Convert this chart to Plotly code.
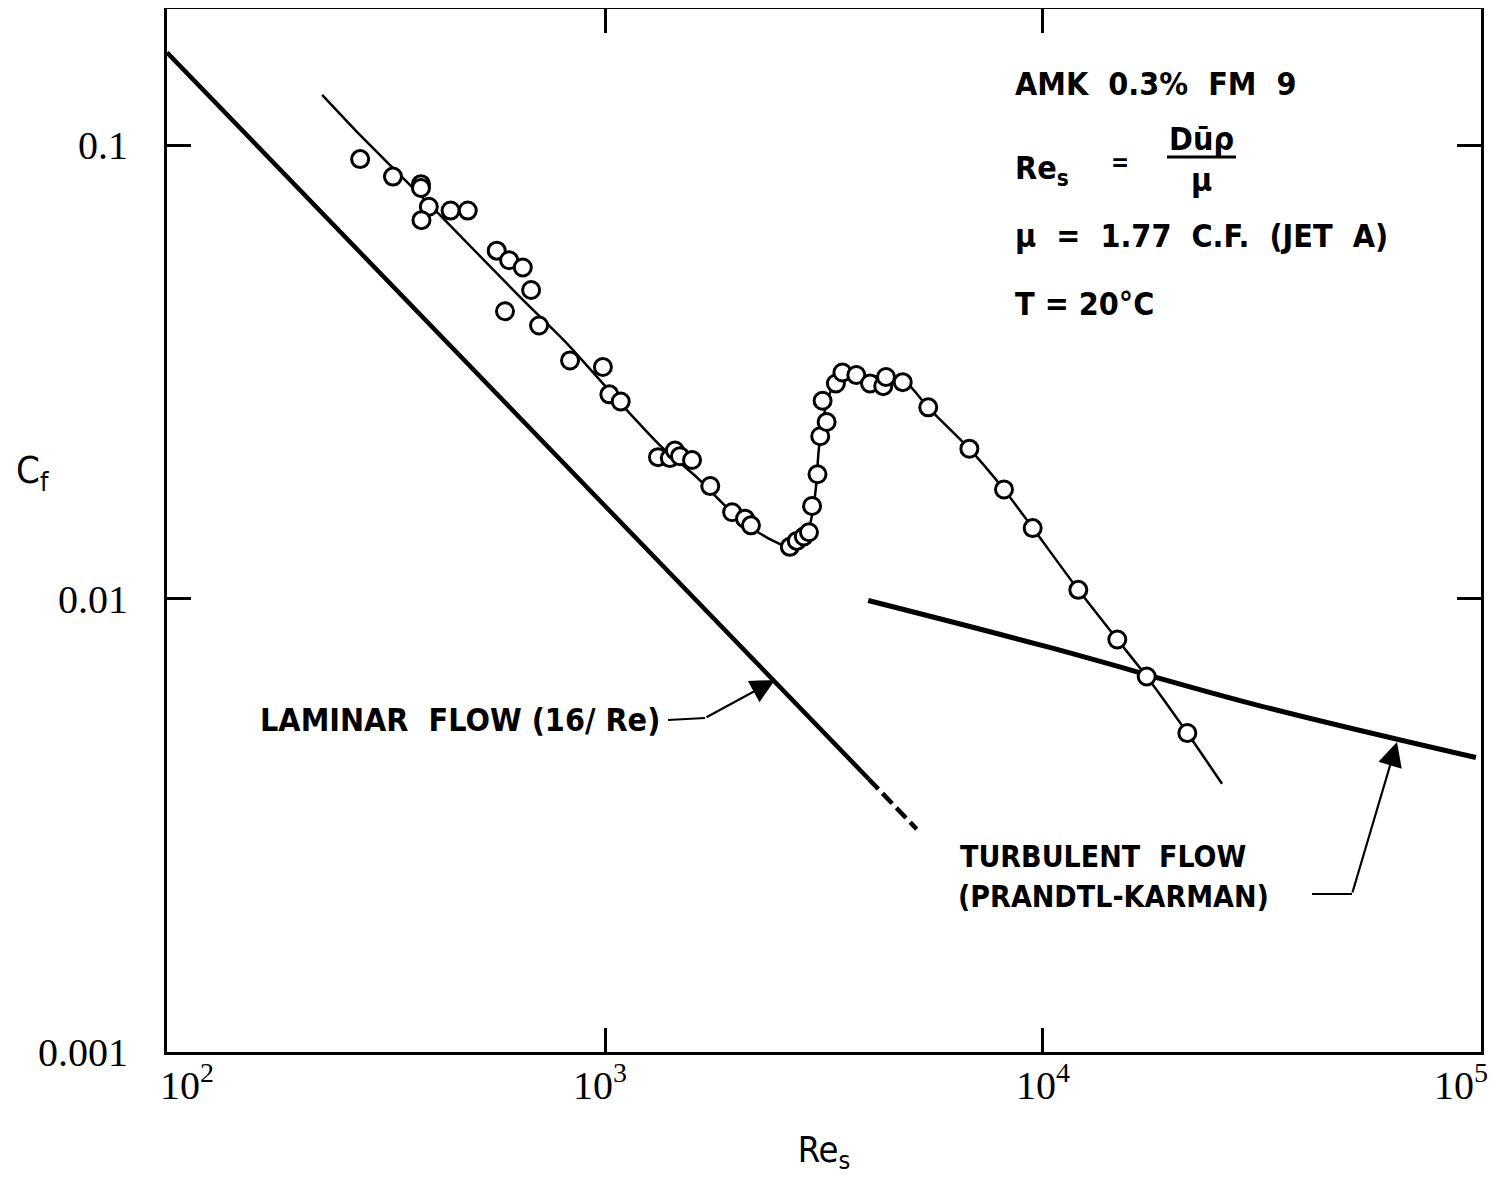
import plotly.graph_objects as go

# ---------------- data ----------------
re_data = [276, 328, 380, 380, 396, 381, 444, 486, 566, 604, 649, 678, 591, 707, 832,
           989, 1023, 1086, 1321, 1406, 1444, 1483, 1580, 1739, 1951, 2088, 2154,
           2642, 2741, 2844, 2922, 2970, 3056, 3100, 3206, 3139, 3366, 3484, 3748,
           4028, 4318, 4381, 4784, 5471, 6791, 8147, 9473, 12040, 14780, 17250, 21360]
cf_data = [0.0931, 0.0852, 0.0820, 0.0804, 0.0731, 0.0683, 0.0717, 0.0717, 0.0585,
           0.0557, 0.0537, 0.0479, 0.0430, 0.0400, 0.0335, 0.0324, 0.0282, 0.0272,
           0.0205, 0.0204, 0.0212, 0.0206, 0.0202, 0.0177, 0.0155, 0.0150, 0.0145,
           0.0130, 0.0134, 0.0137, 0.0140, 0.0160, 0.0188, 0.0228, 0.0245, 0.0273,
           0.0298, 0.0315, 0.0311, 0.0298, 0.0294, 0.0308, 0.0300, 0.0264, 0.0214,
           0.0174, 0.0143, 0.01045, 0.00812, 0.00673, 0.00505]

# faired curve through the data
re_fit = [226, 269, 323, 420, 640, 819, 1122, 1335, 1622, 1899, 2259, 2645, 2877,
          2969, 3031, 3080, 3179, 3298, 3494, 3821, 4404, 4892, 5462, 6777, 8147,
          9480, 12040, 14780, 17250, 21360, 25630]
cf_fit = [0.1290, 0.1079, 0.0903, 0.0701, 0.0462, 0.0365, 0.0260, 0.02176, 0.01849,
          0.01588, 0.01391, 0.01296, 0.01363, 0.01525, 0.01758, 0.02154, 0.0260,
          0.02908, 0.03155, 0.03107, 0.03076, 0.02983, 0.02640, 0.02143, 0.01739,
          0.01430, 0.01045, 0.00812, 0.00673, 0.00505, 0.003905]

# laminar flow line (16/Re): solid part and dashed extension
re_lam = [100, 4000]
cf_lam = [0.16, 0.004]
re_lam_ext = [4000, 5150]
cf_lam_ext = [0.004, 0.0031]

# turbulent flow (Prandtl-Karman)
re_turb = [3990, 10200, 31300, 97400]
cf_turb = [0.0099, 0.00783, 0.0058, 0.00446]

NB = "\u00a0"
x_tickvals = [100, 1000, 10000, 100000]
x_ticktext = [NB * 4 + "10<sup>2</sup>", "10<sup>3</sup>" + NB,
              "10<sup>4</sup>", "10<sup>5</sup>" + NB * 4]
y_tickvals = [0.001, 0.01, 0.1]
y_ticktext = ["0.001", "0.01", "0.1"]

# ---------------- figure ----------------
BODY = 8                      # default page margin of the html body
W, H = 1497 - 2 * BODY, 1185 - 2 * BODY
L, R, T, B = 167, 1481, 9, 1052   # plot area in window pixels

def px(x):
    return (x - L) / (R - L)

def py(y):
    return (B - y) / (B - T)

SANS = "DejaVu Sans Condensed, DejaVu Sans, sans-serif"
SERIF = "Liberation Serif, Times New Roman, serif"

fig = go.Figure()
fig.add_trace(go.Scatter(x=re_lam, y=cf_lam, mode="lines",
                         line=dict(color="black", width=4.5), showlegend=False))
fig.add_trace(go.Scatter(x=re_lam_ext, y=cf_lam_ext, mode="lines",
                         line=dict(color="black", width=4.5, dash="14px,6px"),
                         showlegend=False))
fig.add_trace(go.Scatter(x=re_turb, y=cf_turb, mode="lines",
                         line=dict(color="black", width=5, shape="spline"),
                         showlegend=False))
fig.add_trace(go.Scatter(x=re_fit, y=cf_fit, mode="lines",
                         line=dict(color="black", width=2.5, shape="spline",
                                   smoothing=0.6),
                         showlegend=False))
fig.add_trace(go.Scatter(x=re_data, y=cf_data, mode="markers",
                         marker=dict(symbol="circle", size=17, color="white",
                                     line=dict(color="black", width=3)),
                         showlegend=False))

axis_common = dict(showline=True, linewidth=3, linecolor="black", mirror="ticks",
                   ticks="inside", ticklen=24, tickwidth=2.5, tickcolor="black",
                   showgrid=False, zeroline=False, automargin=False)

fig.update_xaxes(type="log", range=[2 - 1e-4, 5 + 1e-4],
                 tickvals=x_tickvals, ticktext=x_ticktext,
                 tickfont=dict(family=SERIF, size=40, color="black"),
                 ticklabelstandoff=-4, ticklabeloverflow="allow",
                 title=dict(text="Re<sub>s</sub>",
                            font=dict(family=SANS, size=36, color="black"),
                            standoff=30),
                 **axis_common)
fig.update_yaxes(type="log", range=[-3, -0.7], tickvals=y_tickvals, ticktext=y_ticktext,
                 tickfont=dict(family=SERIF, size=40, color="black"),
                 ticklabelstandoff=28,
                 **axis_common)

ann = []

def text(x, y, s, size=32, anchor="left", weight="bold"):
    ann.append(dict(x=px(x), y=py(y), xref="paper", yref="paper", text=s,
                    showarrow=False, xanchor=anchor, yanchor="middle",
                    font=dict(family=SANS, size=size, color="black", weight=weight)))

text(1013, 84, "AMK  0.3%  FM  9")
text(1013, 170, "Re<sub>s</sub>")
text(1120, 163, "=", size=24, anchor="center")
text(1201, 139, "Dūρ", anchor="center")
text(1201, 180, "μ", anchor="center")
text(1013, 236, "μ  =  1.77  C.F.  (JET  A)")
text(1013, 304, "T = 20°C")
text(258, 720, "LAMINAR  FLOW (16/ Re)")
text(958, 856, "TURBULENT  FLOW", size=30)
text(956, 896, "(PRANDTL-KARMAN)", size=30)
text(14, 472, "C<sub>f</sub>", size=38, weight="normal")

# arrows
ann.append(dict(x=px(775), y=py(680), xref="paper", yref="paper", text="",
                showarrow=True, ax=-70, ay=38, arrowhead=2, arrowsize=2.2,
                arrowwidth=2.2, arrowcolor="black"))
ann.append(dict(x=px(1397), y=py(742), xref="paper", yref="paper", text="",
                showarrow=True, ax=-45, ay=152, arrowhead=2, arrowsize=2.2,
                arrowwidth=2.2, arrowcolor="black"))

shapes = [
    dict(type="line", xref="paper", yref="paper", x0=px(668), y0=py(720),
         x1=px(705), y1=py(718), line=dict(color="black", width=2.2)),
    dict(type="line", xref="paper", yref="paper", x0=px(1312), y0=py(894),
         x1=px(1352), y1=py(894), line=dict(color="black", width=2.2)),
    dict(type="line", xref="paper", yref="paper", x0=px(1167), y0=py(157),
         x1=px(1236), y1=py(157), line=dict(color="black", width=3)),
]

fig.update_layout(width=W, height=H,
                  margin=dict(l=L - BODY, r=W - (R - BODY), t=T - BODY,
                              b=H - (B - BODY), pad=0, autoexpand=False),
                  plot_bgcolor="white", paper_bgcolor="white",
                  annotations=ann, shapes=shapes, showlegend=False)

fig.write_html("out.html")
